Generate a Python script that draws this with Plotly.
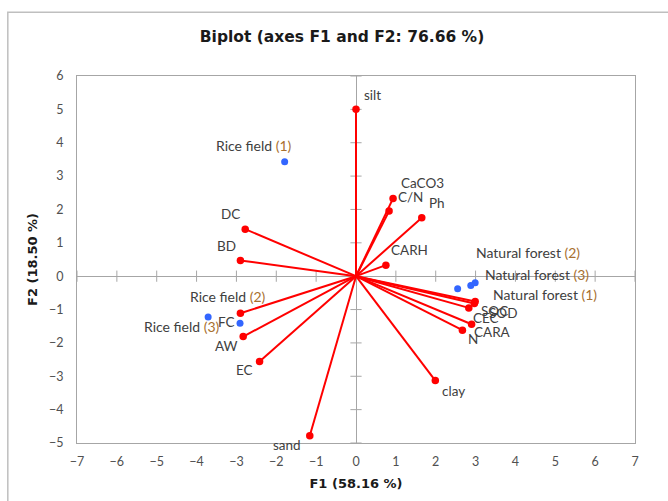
import plotly.graph_objects as go

# ---- data ----
var_names = ["silt", "CaCO3", "C/N", "Ph", "CARH", "DC", "BD", "FC", "AW", "EC",
             "sand", "clay", "SOC", "SOD", "CEC", "CARA", "N"]
var_f1 = [0.00, 0.93, 0.83, 1.65, 0.75, -2.78, -2.90, -2.90, -2.83, -2.42,
          -1.16, 1.99, 2.99, 2.97, 2.83, 2.90, 2.67]
var_f2 = [5.00, 2.33, 1.95, 1.75, 0.33, 1.41, 0.47, -1.11, -1.81, -2.56,
          -4.78, -3.13, -0.76, -0.82, -0.95, -1.44, -1.62]

obs_base = ["Rice field", "Rice field", "Rice field",
            "Natural forest", "Natural forest", "Natural forest"]
obs_num = ["(1)", "(2)", "(3)", "(1)", "(2)", "(3)"]
obs_f1 = [-1.79, -2.91, -3.71, 2.55, 2.88, 2.99]
obs_f2 = [3.43, -1.41, -1.22, -0.38, -0.28, -0.20]

x_ticks = list(range(-7, 8))
y_ticks = list(range(-5, 7))

title_text = "Biplot (axes F1 and F2: 76.66 %)"
x_title = "F1 (58.16 %)"
y_title = "F2 (18.50 %)"

# ---- label offsets (pixels), style only ----
var_off = [(16, 14), (29, 15), (21, 14), (15, 15), (24, 15), (-15, 15), (-14, 15),
           (-14, -9), (-17, -9), (-15, -8), (-23, -9), (18, -10), (19, -9),
           (29, -9), (17, -10), (21, -8), (11, -9)]
obs_off = [(-31, 16), (-12, 27), (-26, -10), (87, -6), (57, 33), (62, 8)]

FONT = "Lato"
BFONT = "DejaVu Sans"
GRAY = "#A6A6A6"
TXT = "#404040"
NUMC = "#A8702F"

fig = go.Figure()

# tick marks on zero lines
fig.add_trace(go.Scatter(x=x_ticks, y=[0] * len(x_ticks), mode="markers",
                         marker=dict(symbol="line-ns", size=8,
                                     line=dict(color=GRAY, width=1)),
                         hoverinfo="skip", showlegend=False))
fig.add_trace(go.Scatter(x=[0] * len(y_ticks), y=y_ticks, mode="markers",
                         marker=dict(symbol="line-ew", size=8,
                                     line=dict(color=GRAY, width=1)),
                         hoverinfo="skip", showlegend=False))

# vectors
for nm, a, b in zip(var_names, var_f1, var_f2):
    fig.add_trace(go.Scatter(x=[0, a], y=[0, b], mode="lines",
                             line=dict(color="#FF0000", width=2),
                             hoverinfo="skip", showlegend=False))
fig.add_trace(go.Scatter(x=var_f1, y=var_f2, mode="markers",
                         marker=dict(color="#FF0000", size=7.5),
                         text=var_names, showlegend=False))
fig.add_trace(go.Scatter(x=obs_f1, y=obs_f2, mode="markers",
                         marker=dict(color="#3366FF", size=7),
                         text=[f"{a} {b}" for a, b in zip(obs_base, obs_num)],
                         showlegend=False))

# labels
for nm, a, b, (dx, dy) in zip(var_names, var_f1, var_f2, var_off):
    fig.add_annotation(x=a, y=b, text=nm, showarrow=False, xshift=dx, yshift=dy,
                       font=dict(family=FONT, size=13.5, color=TXT))
for nm, num, a, b, (dx, dy) in zip(obs_base, obs_num, obs_f1, obs_f2, obs_off):
    fig.add_annotation(x=a, y=b, text=f"{nm} <span style='color:{NUMC}'>{num}</span>",
                       showarrow=False, xshift=dx, yshift=dy,
                       font=dict(family=FONT, size=14, color=TXT))

# outer chart border
fig.add_shape(type="rect", xref="paper", yref="paper",
              x0=-0.124, x1=1.2, y0=-0.4, y1=1.174,
              line=dict(color="#BFBFBF", width=1.5), layer="below")

fig.update_layout(
    width=668, height=501,
    margin=dict(l=77, r=33, t=76, b=58),
    paper_bgcolor="white", plot_bgcolor="white",
    title=dict(text=title_text, x=0.512, xref="container", xanchor="center",
               y=0.926, yref="container", yanchor="middle",
               font=dict(family=BFONT, size=15.5, color="#1a1a1a", weight="bold")),
    font=dict(family=FONT, color="#595959"),
)
fig.update_xaxes(range=[-7, 7], tickvals=x_ticks, showgrid=False, automargin=False,
                 zeroline=True, zerolinecolor=GRAY, zerolinewidth=1,
                 showline=True, mirror=True, linecolor=GRAY, linewidth=1,
                 ticks="", ticklabelstandoff=7,
                 tickfont=dict(family=FONT, size=12.5, color="#505050"),
                 title=dict(text=x_title, standoff=10,
                            font=dict(family=BFONT, size=13, color="#1a1a1a", weight="bold")))
fig.update_yaxes(range=[-5, 6], tickvals=y_ticks, showgrid=False, automargin=False,
                 zeroline=True, zerolinecolor=GRAY, zerolinewidth=1,
                 showline=True, mirror=True, linecolor=GRAY, linewidth=1,
                 ticks="", ticklabelstandoff=10,
                 tickfont=dict(family=FONT, size=12.5, color="#505050"),
                 title=dict(text=y_title, standoff=8,
                            font=dict(family=BFONT, size=13, color="#1a1a1a", weight="bold")))

fig.write_html("out.html", config={"displayModeBar": False},
               post_script="document.body.style.margin='0';document.body.style.padding='0';")
